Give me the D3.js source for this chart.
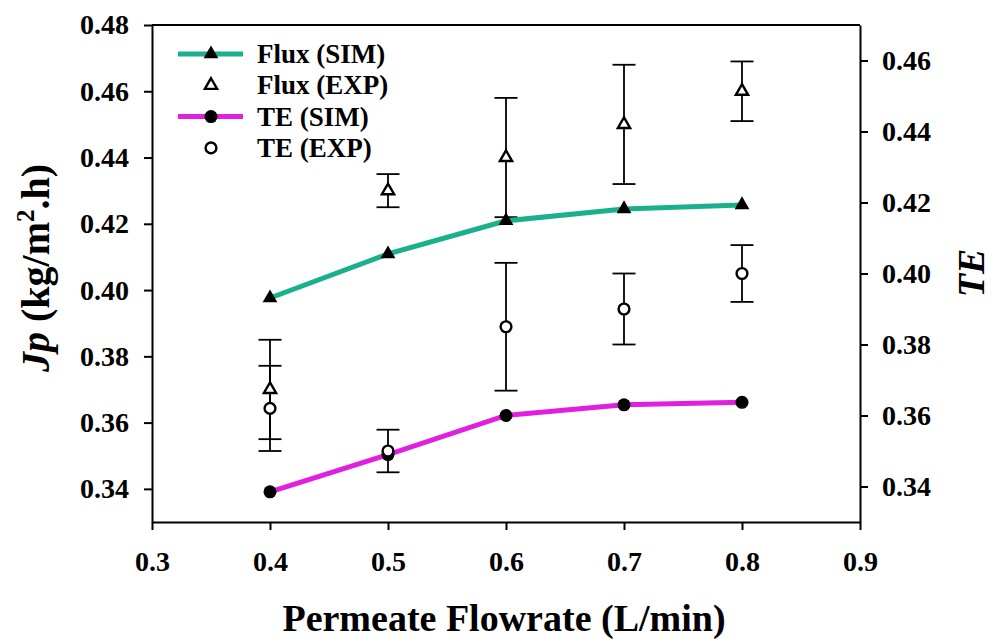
<!DOCTYPE html>
<meta charset="utf-8">
<script src="https://d3js.org/d3.v7.min.js"></script>
<style>
  body { margin: 0; background: #fff; }
  svg text { font-family: "Liberation Serif", "DejaVu Serif", "Times New Roman", Times, serif !important; font-weight: bold; }
</style>
<div id="chart"></div>
<script>

    // data
    const flowrate = [0.4, 0.5, 0.6, 0.7, 0.8];
    const fluxSim = [0.3976, 0.4109, 0.4209, 0.4245, 0.4257];
    const fluxExp = [0.37, 0.43, 0.44, 0.45, 0.46];
    const fluxErr = [0.015, 0.005, 0.018, 0.018, 0.009];
    const teSim = [0.3385, 0.3490, 0.3600, 0.3630, 0.3637];
    const teExp = [0.362, 0.350, 0.385, 0.390, 0.400];
    const teErr = [0.012, 0.006, 0.018, 0.010, 0.008];

    const xTicks = [0.3, 0.4, 0.5, 0.6, 0.7, 0.8, 0.9];
    const jpTicks = [0.34, 0.36, 0.38, 0.40, 0.42, 0.44, 0.46, 0.48];
    const teTicks = [0.34, 0.36, 0.38, 0.40, 0.42, 0.44, 0.46];

    const legendLabels = ["Flux (SIM)", "Flux (EXP)", "TE (SIM)", "TE (EXP)"];

    const W = 992, H = 639;
    const margin = {top: 25, right: 132, bottom: 117, left: 152};
    const width = W - margin.left - margin.right,
        height = H - margin.top - margin.bottom;

    const teal = "#19b08e", magenta = "#e01fe0";

    const svg = d3.select("#chart")
        .append("svg")
        .attr("width", W)
        .attr("height", H)
        .append("g")
        .attr("transform", `translate(${margin.left},${margin.top})`);

    const x = d3.scaleLinear().domain([0.3, 0.9]).range([0, width]);
    const yL = d3.scaleLinear().domain([0.33, 0.48]).range([height, 0]);
    const yR = d3.scaleLinear().domain([0.33, 0.47]).range([height, 0]);

    const tickFont = 28;

    // axes
    const gx = svg.append("g")
        .attr("transform", `translate(0,${height})`)
        .call(d3.axisBottom(x).tickValues(xTicks).tickFormat(d3.format(".1f")).tickSize(8).tickSizeOuter(0).tickPadding(21));
    const gl = svg.append("g")
        .call(d3.axisLeft(yL).tickValues(jpTicks).tickFormat(d3.format(".2f")).tickSize(8).tickSizeOuter(0).tickPadding(15));
    const gr = svg.append("g")
        .attr("transform", `translate(${width},0)`)
        .call(d3.axisRight(yR).tickValues(teTicks).tickFormat(d3.format(".2f")).tickSize(8).tickSizeOuter(0).tickPadding(14));

    [gx, gl, gr].forEach(g => {
        g.attr("font-family", null).attr("font-size", null);
        g.selectAll("path, line").attr("stroke", "#000").attr("stroke-width", 2);
        g.selectAll("text")
            .attr("font-size", tickFont)
            .attr("fill", "#000");
    });

    // top frame
    svg.append("line")
        .attr("x1", 0).attr("x2", width)
        .attr("y1", 0).attr("y2", 0)
        .attr("stroke", "#000").attr("stroke-width", 2);

    // axis titles
    svg.append("text")
        .attr("x", width / 2 - 2)
        .attr("y", height + 109)
        .attr("text-anchor", "middle")
        .attr("font-size", 38)
        .text("Permeate Flowrate (L/min)");

    const lt = svg.append("text")
        .attr("transform", `translate(${-103},243) rotate(-90)`)
        .attr("text-anchor", "middle")
        .attr("font-size", 40);
    lt.append("tspan").attr("font-style", "italic").text("Jp");
    lt.append("tspan").text(" (kg/m");
    lt.append("tspan").attr("font-size", 25).attr("dy", -15).text("2");
    lt.append("tspan").attr("dy", 15).text(".h)");

    svg.append("text")
        .attr("transform", `translate(${width + 124},248) rotate(-90)`)
        .attr("text-anchor", "middle")
        .attr("font-size", 38)
        .attr("font-style", "italic")
        .text("TE");

    const idx = d3.range(flowrate.length);

    // error bars
    const capW = 11.5;
    function errorBars(vals, errs, y) {
        const g = svg.append("g").attr("stroke", "#000").attr("stroke-width", 1.8);
        idx.forEach(i => {
            const cx = x(flowrate[i]);
            const hi = y(vals[i] + errs[i]), lo = y(vals[i] - errs[i]);
            g.append("line").attr("x1", cx).attr("x2", cx).attr("y1", hi).attr("y2", lo);
            g.append("line").attr("x1", cx - capW).attr("x2", cx + capW).attr("y1", hi).attr("y2", hi);
            g.append("line").attr("x1", cx - capW).attr("x2", cx + capW).attr("y1", lo).attr("y2", lo);
        });
    }
    errorBars(fluxExp, fluxErr, yL);
    errorBars(teExp, teErr, yR);

    // simulation lines
    const line = y => d3.line().x(i => x(flowrate[i])).y(i => y(i));
    svg.append("path")
        .attr("d", line(i => yL(fluxSim[i]))(idx))
        .attr("fill", "none").attr("stroke", teal).attr("stroke-width", 5);
    svg.append("path")
        .attr("d", line(i => yR(teSim[i]))(idx))
        .attr("fill", "none").attr("stroke", magenta).attr("stroke-width", 5);

    // markers
    const triFilled = d3.symbol(d3.symbolTriangle, 95);
    const triOpen = d3.symbol(d3.symbolTriangle, 65);

    svg.selectAll(".fsim").data(idx).join("path")
        .attr("transform", i => `translate(${x(flowrate[i])},${yL(fluxSim[i])})`)
        .attr("d", triFilled).attr("fill", "#000");
    svg.selectAll(".fexp").data(idx).join("path")
        .attr("transform", i => `translate(${x(flowrate[i])},${yL(fluxExp[i])})`)
        .attr("d", triOpen).attr("fill", "#fff").attr("stroke", "#000").attr("stroke-width", 2.4);
    svg.selectAll(".tsim").data(idx).join("circle")
        .attr("cx", i => x(flowrate[i])).attr("cy", i => yR(teSim[i]))
        .attr("r", 6.5).attr("fill", "#000");
    svg.selectAll(".texp").data(idx).join("circle")
        .attr("cx", i => x(flowrate[i])).attr("cy", i => yR(teExp[i]))
        .attr("r", 5.4).attr("fill", "#fff").attr("stroke", "#000").attr("stroke-width", 2.4);

    // legend
    const leg = svg.append("g").attr("transform", "translate(26,29)");
    const rowH = 31.3;
    legendLabels.forEach((lab, k) => {
        const row = leg.append("g").attr("transform", `translate(0,${k * rowH})`);
        if (k === 0 || k === 2) {
            row.append("line").attr("x1", 0).attr("x2", 65).attr("y1", 0).attr("y2", 0)
                .attr("stroke", k === 0 ? teal : magenta).attr("stroke-width", 5);
        }
        if (k === 0) row.append("path").attr("transform", "translate(33,0)").attr("d", triFilled).attr("fill", "#000");
        if (k === 1) row.append("path").attr("transform", "translate(33,0)").attr("d", triOpen)
            .attr("fill", "#fff").attr("stroke", "#000").attr("stroke-width", 2.4);
        if (k === 2) row.append("circle").attr("cx", 33).attr("r", 6.5).attr("fill", "#000");
        if (k === 3) row.append("circle").attr("cx", 33).attr("r", 5.4)
            .attr("fill", "#fff").attr("stroke", "#000").attr("stroke-width", 2.4);
        row.append("text").attr("x", 79).attr("y", 9).attr("font-size", 27).text(lab);
    });

</script>
